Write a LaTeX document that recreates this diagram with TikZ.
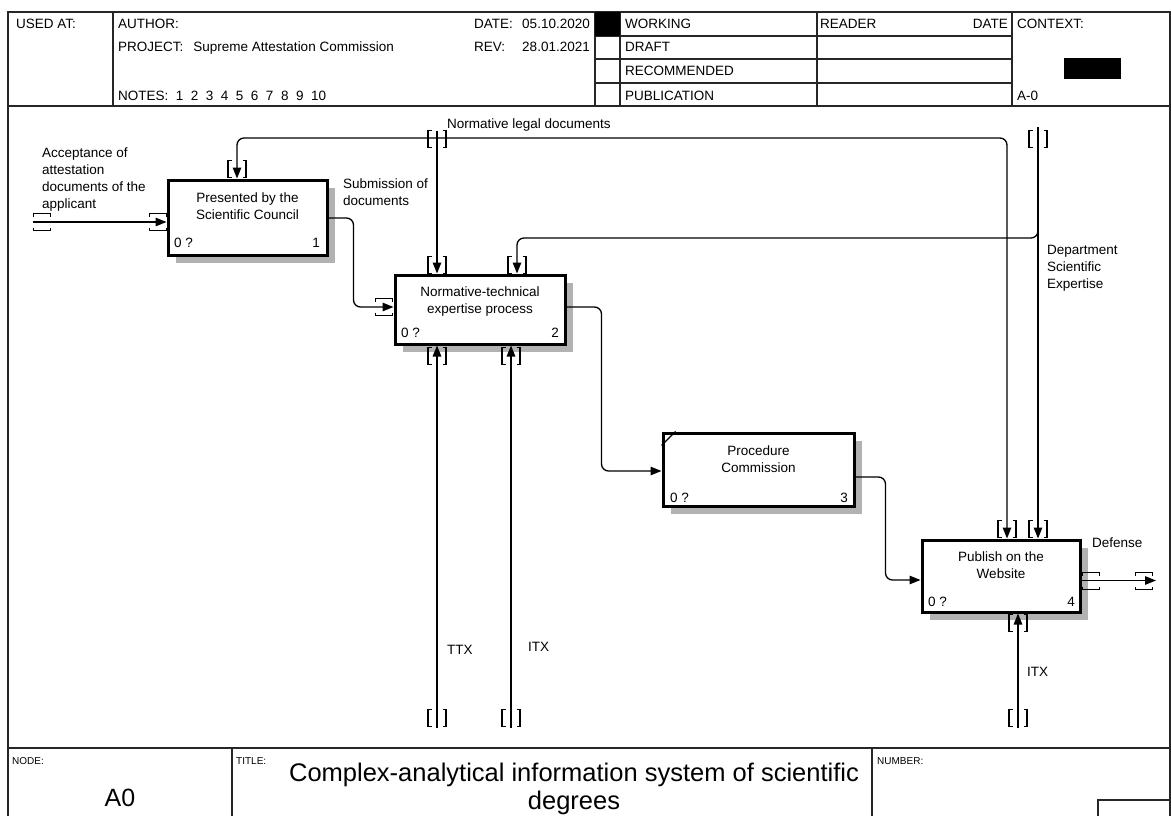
\documentclass[tikz,border=0pt]{standalone}
\usepackage{fontspec}
\setmainfont{Liberation Sans}
\usetikzlibrary{arrows.meta,shadows}
\begin{document}
\begin{tikzpicture}[x=1pt,y=-1pt,
  frm/.style={line width=1.1pt, draw=black!85},
  proc/.style={draw, line width=3pt, fill=white, inner sep=0pt,
     drop shadow={shadow xshift=8pt,shadow yshift=-8pt,fill=black!30,opacity=1}},
  txt/.style={font=\fontsize{13.5}{17}\selectfont, inner sep=0pt},
  lbl/.style={txt, anchor=north west, align=left},
  boxtxt/.style={txt, anchor=north, align=center},
  num/.style={txt, anchor=base west},
  numr/.style={txt, anchor=base east},
  hdr/.style={txt, anchor=base west},
  small/.style={font=\fontsize{10}{11}\selectfont, inner sep=0pt, anchor=base west},
  arr/.style={line width=1.3pt, -{Triangle[length=11pt,width=8.5pt]}},
  brk/.style={line width=1.3pt},
  vbr/.pic={\draw[brk] (-5.5,-8.5) -- (-9,-8.5) -- (-9,8.5) -- (-5.5,8.5)
                       (5.5,-8.5) -- (9,-8.5) -- (9,8.5) -- (5.5,8.5);},
  hbr/.pic={\draw[brk] (-8.5,-5.5) -- (-8.5,-8.5) -- (8.5,-8.5) -- (8.5,-5.5)
                       (-8.5,5.5) -- (-8.5,8.5) -- (8.5,8.5) -- (8.5,5.5);}
]
\useasboundingbox (0,0) rectangle (1171,816);
\clip (0,0) rectangle (1171,816);
\fill[white] (0,0) rectangle (1171,816);

% ---------- frame ----------
\draw[frm] (8,830) -- (8,12) -- (1170,12) -- (1170,830);
\draw[frm] (8,106) -- (1170,106);
\draw[frm] (113,12) -- (113,106);
\draw[frm] (595,12) -- (595,106);
\draw[frm] (620,12) -- (620,106);
\draw[frm] (817,12) -- (817,106);
\draw[frm] (1012,12) -- (1012,106);
\foreach \yy in {36,59,83} \draw[frm] (595,\yy) -- (1012,\yy);
\fill (595,12) rectangle (620,36);
\fill (1064,58) rectangle (1121,79);
\draw[frm] (8,748) -- (1170,748);
\draw[frm] (232,748) -- (232,830);
\draw[frm] (872,748) -- (872,830);
\draw[frm] (1098,830) -- (1098,800) -- (1170,800);

% ---------- header text ----------
\node[hdr] (usedat) at (16,29) {USED AT:};
\node[hdr] (author) at (118,29) {AUTHOR:};
\node[hdr] (project) at (118,51.5) {PROJECT:\hspace{10pt}Supreme Attestation Commission};
\node[hdr] (notes) at (118,100) {NOTES:\ \ 1\ \ 2\ \ 3\ \ 4\ \ 5\ \ 6\ \ 7\ \ 8\ \ 9\ \ 10};
\node[hdr] (datel) at (474,29) {DATE:};
\node[txt, anchor=base east] (datev) at (590,29) {05.10.2020};
\node[hdr] (revl) at (474,51.5) {REV:};
\node[txt, anchor=base east] (revv) at (590,51.5) {28.01.2021};
\node[hdr] (working) at (625,29) {WORKING};
\node[hdr] (draft) at (625,52) {DRAFT};
\node[hdr] (recom) at (625,76) {RECOMMENDED};
\node[hdr] (publ) at (625,100) {PUBLICATION};
\node[hdr] (reader) at (820,29) {READER};
\node[txt, anchor=base east] (rdate) at (1008,29) {DATE};
\node[hdr] (context) at (1017,29) {CONTEXT:};
\node[hdr] (ctxa) at (1017,100) {A-0};

% ---------- title block ----------
\node[small] (nodel) at (12,764) {NODE:};
\node[small] (titlel) at (236,764) {TITLE:};
\node[small] (numberl) at (877,764) {NUMBER:};
\node[font=\fontsize{25}{27}\selectfont, inner sep=0pt, anchor=base] (a0) at (120,806) {A0};
\node[font=\fontsize{25.5}{27.5}\selectfont, inner sep=0pt, anchor=north, align=center] (title) at (574,763)
  {Complex-analytical information system of scientific\\degrees};

% ---------- activity boxes ----------
\node[proc, minimum width=159pt, minimum height=75pt] (b1) at (247.5,217.5) {};
\node[proc, minimum width=170pt, minimum height=69pt] (b2) at (480,309.5) {};
\node[proc, minimum width=191pt, minimum height=73pt] (b3) at (758.5,469.5) {};
\node[proc, minimum width=158pt, minimum height=72pt] (b4) at (1001,576) {};
\draw[line width=1.3pt] ([yshift=-14]b3.north west) -- ([xshift=14]b3.north west);

\node[boxtxt] (b1t) at (247.5,193) {Presented by the\\Scientific Council};
\node[boxtxt] (b2t) at (480,287) {Normative-technical\\expertise process};
\node[boxtxt] (b3t) at (758.5,446) {Procedure\\Commission};
\node[boxtxt] (b4t) at (1001,552) {Publish on the\\Website};
\node[num] (b1q) at (174,247) {0 ?};  \node[numr] (b1n) at (320,247) {1};
\node[num] (b2q) at (401,337) {0 ?};  \node[numr] (b2n) at (559,337) {2};
\node[num] (b3q) at (670,502) {0 ?};  \node[numr] (b3n) at (848,502) {3};
\node[num] (b4q) at (928,606) {0 ?};  \node[numr] (b4n) at (1075,606) {4};

% ---------- arrow labels ----------
\node[lbl] (lacc) at (42,148) {Acceptance of\\attestation\\documents of the\\applicant};
\node[lbl] (lsub) at (343,179) {Submission of\\documents};
\node[lbl] (lnorm) at (447,119) {Normative legal documents};
\node[lbl] (ldep) at (1047,245) {Department\\Scientific\\Expertise};
\node[lbl] (lttx) at (447,645) {TTX};
\node[lbl] (litx1) at (528,642) {ITX};
\node[lbl] (litx2) at (1027,667) {ITX};
\node[lbl] (ldef) at (1092,538) {Defense};

% ---------- boundary coordinates ----------
\coordinate (inA) at (33,222);
\coordinate (nl) at (437,131);
\coordinate (nlj) at (437,138);
\coordinate (dse) at (1038,127);
\coordinate (dsa) at (1038,222);
\coordinate (dsj) at (1038,238);
\coordinate (m1) at (437,728);
\coordinate (m2) at (511,728);
\coordinate (m3) at (1018,728);
\coordinate (outD) at (1156,580.5);

% ---------- connectors ----------
\draw[arr] (inA) -- (inA -| b1.west);
\draw[arr, rounded corners=7pt] ([yshift=-0.5]b1.east) -- ++(25,0) |- ([yshift=2.5]b2.west);
\draw[arr] (nl) -- (nl |- b2.north);
\draw[arr, rounded corners=7pt] (nlj) -| ([xshift=-10.5]b1.north);
\draw[arr, rounded corners=7pt] (nlj) -| ([xshift=6]b4.north);
\draw[arr] (dse) -- (dse |- b4.north);
\draw[arr, rounded corners=7pt] (dsa) -- (dsj) -| ([xshift=37]b2.north);
\draw[arr] (m1) -- (m1 |- b2.south);
\draw[arr] (m2) -- (m2 |- b2.south);
\draw[arr] (m3) -- (m3 |- b4.south);
\draw[arr, rounded corners=7pt] ([yshift=2.5]b2.east) -- ++(35,0) |- ([yshift=-1.5]b3.west);
\draw[arr, rounded corners=7pt] ([yshift=-7.5]b3.east) -- ++(30,0) |- ([yshift=-4]b4.west);
\draw[arr] ([yshift=-4.5]b4.east) -- (outD);

% ---------- tunnel brackets ----------
\pic at (42,222) {hbr};
\pic at (158,222) {hbr};
\pic at (384,307) {hbr};
\pic at (1091,581) {hbr};
\pic at (1144,581) {hbr};
\pic at (437,139) {vbr};
\pic at (1038,139) {vbr};
\pic at (237,169) {vbr};
\pic at (437,265) {vbr};
\pic at (517,265) {vbr};
\pic at (437,356) {vbr};
\pic at (511,356) {vbr};
\pic at (1007,529) {vbr};
\pic at (1038,529) {vbr};
\pic at (1018,623) {vbr};
\pic at (437,718) {vbr};
\pic at (511,718) {vbr};
\pic at (1018,718) {vbr};
\end{tikzpicture}
\end{document}
